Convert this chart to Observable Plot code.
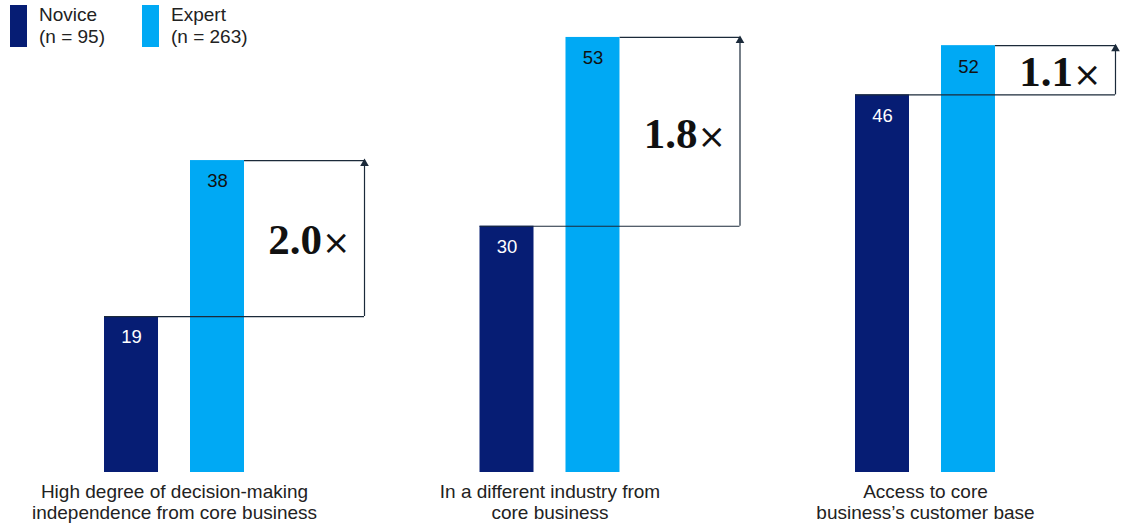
<!DOCTYPE html>
<html>
<head>
<meta charset="utf-8">
<script src="https://cdn.jsdelivr.net/npm/d3@7"></script>
<script src="https://cdn.jsdelivr.net/npm/@observablehq/plot@0.6"></script>
<style>
  html, body { margin: 0; padding: 0; background: #fff; }
  #wrap { position: relative; width: 1121px; height: 527px; font-family: "Liberation Sans", Arial, sans-serif; }
  .legend { position: absolute; top: 0; left: 0; font-size: 19px; line-height: 22px; color: #222; }
  .item { position: absolute; top: 5px; }
  .sw { position: absolute; top: 0; left: 0; width: 17px; height: 42px; }
  .lab { position: absolute; top: -1px; left: 29px; white-space: nowrap; }
</style>
</head>
<body>
<div id="wrap">
  <div class="legend">
    <div class="item" style="left:10px"><div class="sw" style="background:#061d74"></div><div class="lab">Novice<br>(n = 95)</div></div>
    <div class="item" style="left:142px"><div class="sw" style="background:#00a9f4"></div><div class="lab">Expert<br>(n = 263)</div></div>
  </div>
</div>
<script>
const categories = [
  "High degree of decision-making\nindependence from core business",
  "In a different industry from\ncore business",
  "Access to core\nbusiness\u2019s customer base"
];
const novice = [19, 30, 46];
const expert = [38, 53, 52];
const multipliers = ["2.0\u00d7", "1.8\u00d7", "1.1\u00d7"];
const seriesNames = ["Novice", "Expert"];
const colors = {Novice: "#061d74", Expert: "#00a9f4"};
const labelColors = {Novice: "#ffffff", Expert: "#111111"};

// layout (in units of one group step)
const barW = 0.1438, gap = 0.0852, reach = 0.3196;
const lineColor = "#1b2a3a";

const bars = categories.flatMap((c, i) => [
  {i, series: "Novice", value: novice[i], x1: i - gap / 2 - barW, x2: i - gap / 2},
  {i, series: "Expert", value: expert[i], x1: i + gap / 2, x2: i + gap / 2 + barW}
]);
const groups = categories.map((c, i) => ({
  i, label: c, nov: novice[i], exp: expert[i], mult: multipliers[i],
  left: i - gap / 2 - barW, expRight: i + gap / 2 + barW, end: i + gap / 2 + barW + reach
}));

const plot = Plot.plot({
  width: 1121,
  height: 527,
  marginTop: 0,
  marginBottom: 55,
  marginLeft: 0,
  marginRight: 0,
  x: {domain: [-0.4634, 2.522], axis: null},
  y: {domain: [0, 57.5], axis: null},
  style: {fontFamily: "Liberation Sans, Arial, sans-serif", fontSize: "19px", overflow: "visible", background: "transparent"},
  marks: [
    Plot.ruleY(groups, {y: "exp", x1: "expRight", x2: "end", stroke: lineColor, strokeWidth: 1.2}),
    Plot.rectY(bars, {x1: "x1", x2: "x2", y1: 0, y2: "value", fill: d => colors[d.series]}),
    Plot.ruleY(groups, {y: "nov", x1: "left", x2: "end", stroke: lineColor, strokeWidth: 1.2}),
    Plot.ruleX(groups, {x: "end", y1: "nov", y2: "exp", stroke: lineColor, strokeWidth: 1.2}),
    Plot.dot(groups, {x: "end", y: "exp", symbol: "triangle", r: 3.2, fill: lineColor, dy: 3}),
    Plot.text(bars, {x: d => (d.x1 + d.x2) / 2, y: "value", text: d => String(d.value), dy: 21, fill: d => labelColors[d.series], fontSize: 18.5}),
    Plot.text(groups, {x: "end", y: d => (d.nov + d.exp) / 2, text: "mult", dx: -14, dy: 2, textAnchor: "end", fontSize: 43, fontWeight: "bold", fontFamily: "Liberation Serif, DejaVu Serif, serif", fill: "#111"}),
    Plot.text(groups, {x: "i", y: 0, text: "label", lineAnchor: "top", dy: 11, fontSize: 19, lineHeight: 1.1, fill: "#222"})
  ]
});

d3.select(plot).selectAll("text").each(function () {
  const t = this.textContent;
  if (/\u00d7$/.test(t) && this.childElementCount === 0) {
    const num = t.slice(0, -1);
    this.textContent = num;
    d3.select(this).append("tspan").attr("font-weight", "normal").attr("font-family", "DejaVu Sans, sans-serif").attr("font-size", 34).text("\u00d7");
  }
});

plot.style.position = "absolute";
plot.style.top = "0";
plot.style.left = "0";
document.getElementById("wrap").prepend(plot);
</script>
</body>
</html>
